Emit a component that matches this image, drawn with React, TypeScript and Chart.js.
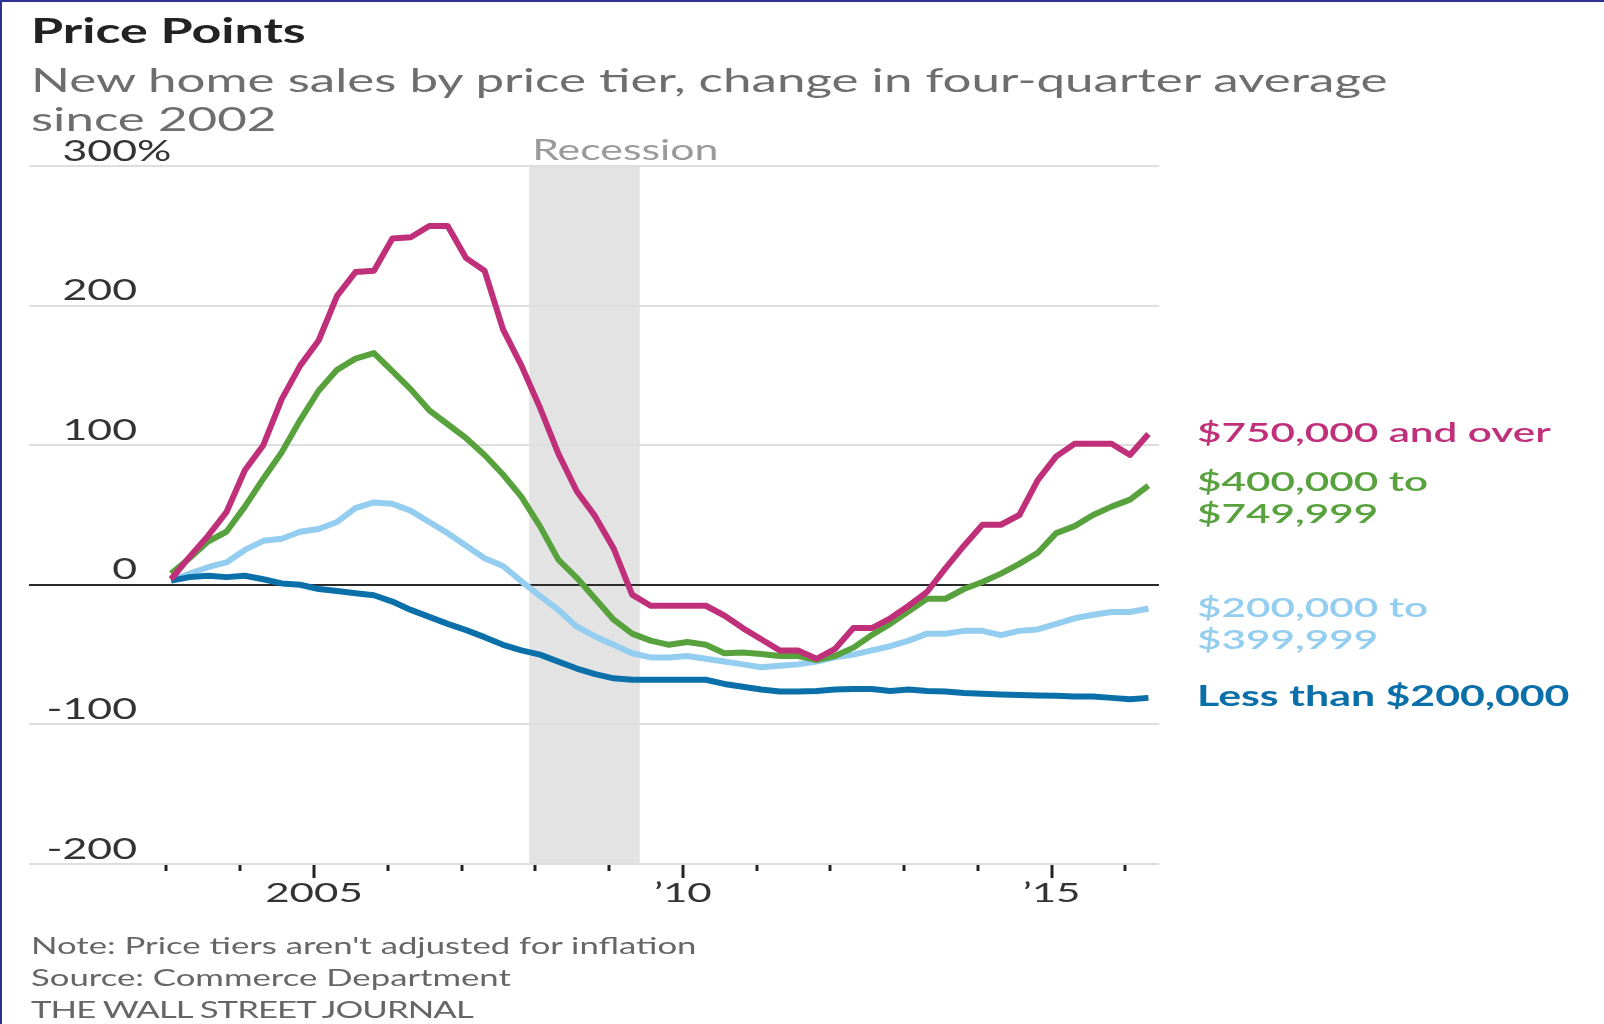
import React, { useEffect, useRef } from 'react';
import { Chart, registerables } from 'chart.js';
Chart.register(...registerables);

// ---------- data ----------
const startYear = 2003; // first quarter plotted: 2003 Q1
const over750 = [4, 20, 35, 52, 82, 100, 133, 157, 175, 207, 224, 225, 248, 249, 257, 257, 234, 225, 183, 157, 127, 94, 67, 49, 26, -7, -15, -15, -15, -15, -22, -31, -39, -47, -47, -53, -46, -31, -31, -24, -15, -5, 12, 28, 43, 43, 50, 75, 92, 101, 101, 101, 93, 108];
const mid400 = [8, 19, 31, 38, 56, 76, 95, 118, 139, 154, 162, 166, 153, 140, 125, 115, 105, 93, 79, 63, 42, 18, 5, -10, -25, -35, -40, -43, -41, -43, -49, -48.5, -49.5, -51, -51, -54, -51, -45, -36, -28, -19, -10, -10, -3, 2, 8, 15, 23, 37, 42, 50, 56, 61, 71];
const mid200 = [3, 8, 12.6, 16, 25, 31.5, 33, 38, 40, 45, 55, 59, 58, 53, 45, 37, 28, 19, 13.5, 2.5, -8, -18, -30, -37, -43, -49, -52, -52, -51, -53, -55, -57, -59, -58, -57, -55, -52, -50, -47, -44, -40, -35, -35, -33, -33, -36, -33, -32, -28, -24, -21.5, -19.5, -19.5, -17];
const under200 = [3, 5.5, 6.5, 5.5, 6.5, 4, 1, 0, -3, -4.5, -6, -7.5, -12, -18, -23, -28, -32.5, -37.5, -43, -47, -50, -55, -60, -64, -67, -68, -68, -68, -68, -68, -71, -73, -75, -76.5, -76.5, -76, -75, -74.6, -74.6, -76, -75, -76, -76.5, -77.5, -78, -78.5, -79, -79.3, -79.5, -80, -80, -81, -82, -81];

const yTickValues = [-200, -100, 0, 100, 200, 300];
const tickYears = [2003, 2004, 2005, 2006, 2007, 2008, 2009, 2010, 2011, 2012, 2013, 2014, 2015, 2016];
const yearLabels: Record<number, string> = { 2005: '2005', 2010: '\u201910', 2015: '\u201915' };
const recessionStart = 2007.917; // Dec 2007
const recessionEnd = 2009.417; // Jun 2009

const seriesNames = ['$750,000 and over', '$400,000 to $749,999', '$200,000 to $399,999', 'Less than $200,000'];

// quarter dates (mid-first-month of each quarter)
const quarterTimes = over750.map((_, i) => startYear + Math.floor(i / 4) + (i % 4) * 0.25 + 0.0625);

// ---------- styles ----------
const FONT = 'Lato, "Open Sans", "DejaVu Sans", sans-serif';
const S = 1.53; // horizontal stretch of the original artwork
const MAG = '#c0307a';
const GREEN = '#58a23e';
const LBLUE = '#93cdf0';
const DBLUE = '#0b6fa9';

function stretchText(ctx: CanvasRenderingContext2D, text: string, x: number, y: number, align: 'left' | 'right' | 'center', anchorText?: string) {
  const w = ctx.measureText(anchorText ?? text).width * S;
  let sx = x;
  if (align === 'right') sx = x - w;
  else if (align === 'center') sx = x - w / 2;
  ctx.save();
  ctx.translate(sx, y);
  ctx.scale(S, 1);
  ctx.textAlign = 'left';
  ctx.textBaseline = 'alphabetic';
  ctx.fillText(text, 0, 0);
  ctx.restore();
}

const decor = {
  id: 'decor',
  beforeDraw(chart: any) {
    const { ctx, scales } = chart;
    const x = scales.x, y = scales.y;
    const x0 = x.getPixelForValue(recessionStart);
    const x1 = x.getPixelForValue(recessionEnd);
    const yt = y.getPixelForValue(300);
    const yb = y.getPixelForValue(-200);
    ctx.save();
    ctx.fillStyle = '#e3e3e3';
    ctx.fillRect(x0, yt, x1 - x0, yb - yt);
    ctx.restore();
  },
  afterDraw(chart: any) {
    const { ctx, scales, chartArea } = chart;
    const x = scales.x, y = scales.y;
    ctx.save();
    // y labels
    ctx.font = `28px ${FONT}`;
    ctx.fillStyle = '#333';
    const labelRight = chartArea.left + 108;
    yTickValues.forEach((v) => {
      const py = y.getPixelForValue(v) - 5.5;
      if (v === 300) stretchText(ctx, '300%', labelRight, py, 'right', '300');
      else stretchText(ctx, String(v), labelRight, py, 'right');
    });
    // recession label
    ctx.fillStyle = '#9a9a9a';
    stretchText(ctx, 'Recession', x.getPixelForValue(recessionStart) + 3, y.getPixelForValue(300) - 6, 'left');
    // x ticks
    const bottom = y.getPixelForValue(-200);
    ctx.strokeStyle = '#222';
    ctx.lineWidth = 3;
    tickYears.forEach((yr) => {
      const px = Math.round(x.getPixelForValue(yr));
      const major = yearLabels[yr] !== undefined;
      ctx.beginPath();
      ctx.moveTo(px, bottom + 1);
      ctx.lineTo(px, bottom + (major ? 14 : 7));
      ctx.stroke();
    });
    ctx.font = `27.5px ${FONT}`;
    ctx.fillStyle = '#333';
    tickYears.forEach((yr) => {
      const lab = yearLabels[yr];
      if (lab) stretchText(ctx, lab, x.getPixelForValue(yr), bottom + 38, 'center');
    });
    ctx.restore();
  },
};

function T(props: { x: number; base: number; size: number; weight?: number; color: string; ls?: number; children: React.ReactNode }) {
  const { x, base, size, weight = 400, color, ls = 0, children } = props;
  const top = base - 0.887 * size;
  return (
    <div
      style={{
        position: 'absolute',
        left: x,
        top,
        fontFamily: FONT,
        fontSize: size,
        lineHeight: `${size}px`,
        fontWeight: weight,
        color,
        letterSpacing: ls,
        whiteSpace: 'nowrap',
        transform: `scaleX(${S})`,
        transformOrigin: '0 0',
      }}
    >
      {children}
    </div>
  );
}

export default function App() {
  const ref = useRef<HTMLCanvasElement | null>(null);

  useEffect(() => {
    document.body.style.margin = '0';
    if (!ref.current) return;
    const mk = (vals: number[]) => quarterTimes.map((t, i) => ({ x: t, y: vals[i] }));
    const base = { pointRadius: 0, borderWidth: 6, tension: 0, borderJoinStyle: 'round' as const, borderCapStyle: 'butt' as const, fill: false };
    const chart = new Chart(ref.current, {
      type: 'line',
      data: {
        datasets: [
          { ...base, label: seriesNames[0], data: mk(over750), borderColor: MAG },
          { ...base, label: seriesNames[1], data: mk(mid400), borderColor: GREEN },
          { ...base, label: seriesNames[3], data: mk(under200), borderColor: DBLUE },
          { ...base, label: seriesNames[2], data: mk(mid200), borderColor: LBLUE },
        ],
      },
      options: {
        responsive: false,
        animation: false,
        devicePixelRatio: 1,
        layout: { padding: { left: 29, right: 1604 - 1159, top: 166, bottom: 1024 - 864 } },
        plugins: { legend: { display: false }, tooltip: { enabled: false } },
        scales: {
          x: { type: 'linear', min: 2001.136, max: 2016.456, display: false },
          y: {
            type: 'linear',
            min: -200,
            max: 300,
            ticks: { stepSize: 100, display: false },
            grid: {
              color: (c: any) => (c.tick && c.tick.value === 0 ? '#2a2a2a' : '#dedede'),
              lineWidth: 2,
              drawTicks: false,
            },
            border: { display: false },
          },
        },
      },
      plugins: [decor],
    });
    return () => chart.destroy();
  }, []);

  return (
    <div style={{ position: 'absolute', left: 0, top: 0, width: 1604, height: 1024, overflow: 'hidden', background: '#fff' }}>
      <canvas ref={ref} width={1604} height={1024} style={{ position: 'absolute', left: 0, top: 0, width: 1604, height: 1024, display: 'block' }} />
      <div style={{ position: 'absolute', left: 0, top: 0, width: 1604, height: 2, background: '#2f3192' }} />
      <div style={{ position: 'absolute', left: 0, top: 0, width: 2, height: 1024, background: '#2f3192' }} />
      <T x={31} base={43} size={34} weight={700} color="#222">Price Points</T>
      <T x={31} base={93} size={33.4} color="#6e6e6e">New home sales by price tier, change in four-quarter average</T>
      <T x={31} base={131.5} size={33.4} color="#6e6e6e">since 2002</T>
      <T x={1197} base={442} size={27.6} weight={600} color={MAG}>$750,000 and over</T>
      <T x={1197} base={491} size={27.6} weight={600} color={GREEN}>$400,000 to</T>
      <T x={1197} base={523} size={27.6} weight={600} color={GREEN}>$749,999</T>
      <T x={1197} base={617} size={27.6} weight={600} color={LBLUE}>$200,000 to</T>
      <T x={1197} base={649} size={27.6} weight={600} color={LBLUE}>$399,999</T>
      <T x={1197} base={706} size={28} weight={700} color={DBLUE}>Less than $200,000</T>
      <T x={31} base={955} size={22.7} color="#666">Note: Price tiers aren't adjusted for inflation</T>
      <T x={31} base={987} size={22.7} color="#666">Source: Commerce Department</T>
      <T x={31} base={1019} size={22.7} ls={-0.6} color="#666">THE WALL STREET JOURNAL</T>
    </div>
  );
}
